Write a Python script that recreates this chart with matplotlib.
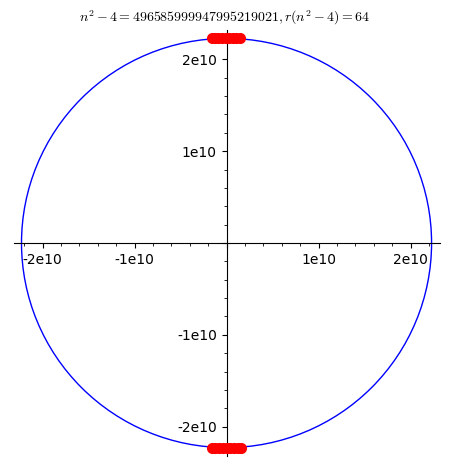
import matplotlib
matplotlib.use("Agg")
import matplotlib.pyplot as plt
from matplotlib.patches import Circle
from matplotlib.ticker import MultipleLocator, FuncFormatter

plt.rcParams["mathtext.fontset"] = "cm"

# circle radius n (n^2 - 4 = 496585999947995219021)
radius = 2.22843e10

# lattice points (clustered near top and bottom)
top_x = [-1.6e9, -1.25e9, -0.9e9, -0.5e9, -0.1e9, 0.3e9, 0.7e9, 1.05e9, 1.45e9]
top_y = [2.2278e10, 2.2280e10, 2.2282e10, 2.2283e10, 2.2284e10, 2.2284e10, 2.2283e10, 2.2281e10, 2.2279e10]
bot_x = [-1.6e9, -1.2e9, -0.8e9, -0.4e9, 0.0, 0.4e9, 0.8e9, 1.2e9, 1.6e9]
bot_y = [-2.2278e10, -2.2280e10, -2.2282e10, -2.2283e10, -2.2284e10, -2.2283e10, -2.2282e10, -2.2280e10, -2.2278e10]

title = r"$n^2 - 4 = 496585999947995219021, r(n^2 - 4) = 64$"

fig = plt.figure(figsize=(4.52, 4.70), dpi=100)
ax = fig.add_axes([14 / 452, 14 / 470, 426 / 452, 426 / 470])

ax.add_patch(Circle((0, 0), radius, fill=False, edgecolor="blue", linewidth=1))
ax.scatter(top_x, top_y, s=64, color="red", zorder=3, linewidths=0)
ax.scatter(bot_x, bot_y, s=64, color="red", zorder=3, linewidths=0)

ax.set_xlim(-2.31e10, 2.32e10)
ax.set_ylim(-2.32e10, 2.32e10)

# sage style axes through the origin
ax.spines["left"].set_position(("data", 0))
ax.spines["bottom"].set_position(("data", 0))
ax.spines["right"].set_visible(False)
ax.spines["top"].set_visible(False)

ax.xaxis.set_major_locator(MultipleLocator(1e10))
ax.yaxis.set_major_locator(MultipleLocator(1e10))
ax.xaxis.set_minor_locator(MultipleLocator(2e9))
ax.yaxis.set_minor_locator(MultipleLocator(2e9))


def fmt(v, pos):
    if abs(v) < 1:
        return ""
    return "%de10" % round(v / 1e10)


ax.xaxis.set_major_formatter(FuncFormatter(fmt))
ax.yaxis.set_major_formatter(FuncFormatter(fmt))
ax.tick_params(labelsize=10)

fig.text(0.497, 1 - 18 / 470, title, ha="center", va="center", fontsize=10)

fig.savefig("out.png", dpi=100)
